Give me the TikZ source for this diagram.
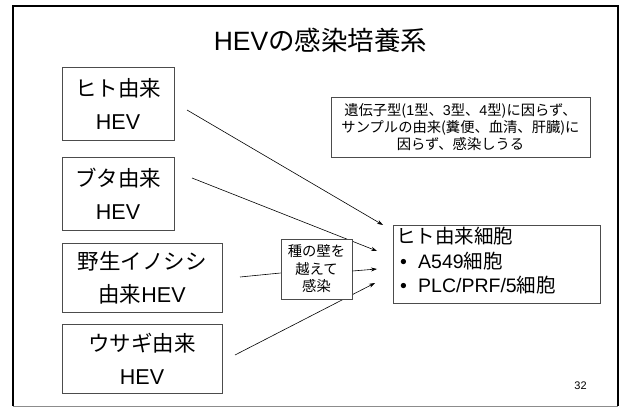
\documentclass[tikz,border=0pt]{standalone}
\usepackage{fontspec}
\setmainfont{Noto Sans CJK JP}
\newfontfamily\arial{Liberation Sans}
\usetikzlibrary{arrows.meta,calc}
\tikzset{
  box/.style={draw=black!70, line width=0.8pt, inner sep=0pt, align=center, fill=white},
  srcbox/.style={box, font=\fontsize{21.5}{33}\selectfont},
  smallbox/.style={box, font=\fontsize{14.3}{16.8}\selectfont},
  conn/.style={line width=0.6pt, -{Stealth[length=6pt,width=4pt]}},
  plainline/.style={line width=0.6pt},
  celltxt/.style={anchor=base west, inner sep=0pt, font=\fontsize{19.5}{24}\selectfont},
}
\begin{document}
\begin{tikzpicture}[x=1pt,y=-1pt]
\useasboundingbox (0,0) rectangle (623,411);
% slide frame
\draw[line width=1.5pt] (13,406) -- (13,6) -- (618,6) -- (618,406);
\draw[black!45, line width=0.8pt] (13,406) -- (618,406);
% title
\node[font=\fontsize{26.5}{30}\selectfont, inner sep=0pt] (title) at (320.5,40) {{\arial HEV}の感染培養系};
% arrow end points
\coordinate (a1s) at (187,110);
\coordinate (a1e) at (383,225);
\coordinate (a2s) at (192,178);
\coordinate (a2e) at (377,251);
\coordinate (a3s) at (240,277);
\coordinate (a3e) at (377,269);
\coordinate (a4s) at (235,355);
\coordinate (a4e) at (375,283);
\draw[conn] (a1s) -- (a1e);
\draw[conn] (a2s) -- (a2e);
\draw[conn] (a4s) -- (a4e);
% source boxes
\node[srcbox, minimum width=112pt, minimum height=73pt] (b1) at (118,103.5) {ヒト由来\\{\arial HEV}};
\node[srcbox, minimum width=112pt, minimum height=73pt] (b2) at (118,193.5) {ブタ由来\\{\arial HEV}};
\node[srcbox, minimum width=160pt, minimum height=69pt] (b3) at (142,277.5) {野生イノシシ\\由来{\arial HEV}};
\node[srcbox, minimum width=160pt, minimum height=69pt] (b4) at (142,358.5) {ウサギ由来\\{\arial HEV}};
% note box
\node[smallbox, minimum width=259pt, minimum height=60pt] (note) at (460.5,127)
  {遺伝子型({\arial 1}型、{\arial 3}型、{\arial 4}型)に因らず、\\サンプルの由来(糞便、血清、肝臓)に\\因らず、感染しうる};
% species barrier box
\node[smallbox, minimum width=71pt, minimum height=60pt, font=\fontsize{14.3}{17.5}\selectfont] (sp) at (316.5,269) {種の壁を\\越えて\\感染};
\draw[plainline] (a3s) -- ($(sp.west)+(0,4)$);
\draw[conn] ($(sp.east)+(0,2)$) -- (a3e);
% cell box
\node[box, minimum width=207pt, minimum height=78pt] (cell) at (496.5,264) {};
\node[celltxt] (c1) at (396,244) {ヒト由来細胞};
\node[celltxt] (c2b) at (400,269) {\arial •};
\node[celltxt] (c2) at (418,269) {{\arial A549}細胞};
\node[celltxt] (c3b) at (400,293) {\arial •};
\node[celltxt] (c3) at (418,293) {{\arial PLC/PRF/5}細胞};
% page number
\node[font=\arial\fontsize{11}{13}\selectfont, inner sep=0pt] (pnum) at (580.5,386) {32};
\end{tikzpicture}
\end{document}
